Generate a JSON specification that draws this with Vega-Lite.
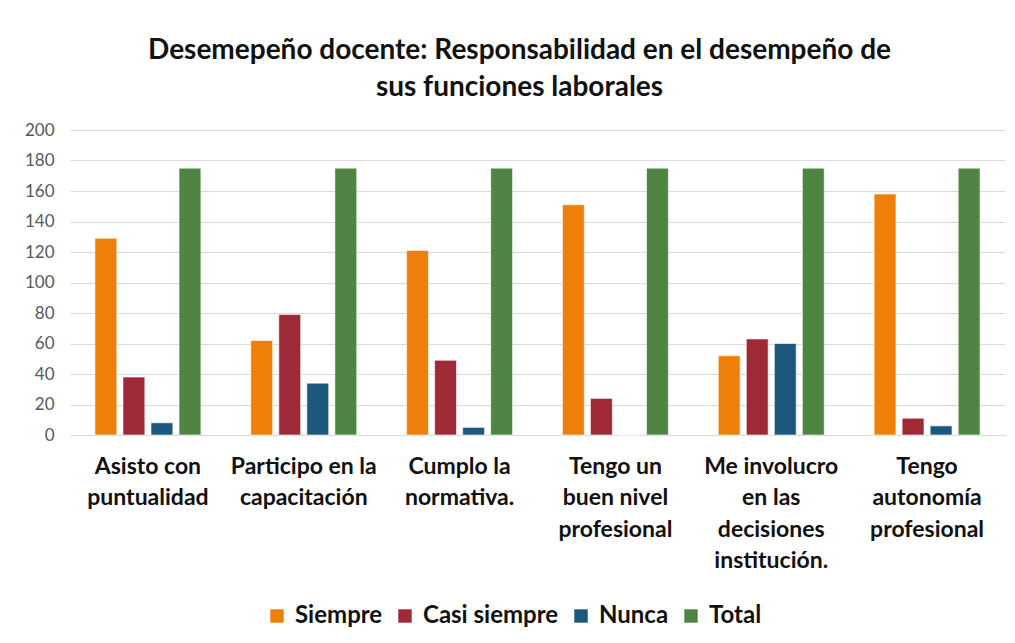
{
  "$schema": "https://vega.github.io/schema/vega-lite/v6.json",
  "width": 935,
  "height": 305,
  "autosize": {"type": "none"},
  "padding": {"left": 70, "top": 130, "right": 10, "bottom": 208},
  "background": "white",
  "config": {
    "font": "Lato",
    "view": {"stroke": null}
  },
  "title": {
    "text": ["Desemepeño docente: Responsabilidad en el desempeño de", "sus funciones laborales"],
    "fontSize": 28,
    "fontWeight": "bold",
    "font": "Lato",
    "color": "#111111",
    "lineHeight": 37,
    "anchor": "middle",
    "offset": 19,
    "dx": -18
  },
  "data": {
    "values": [
      {"pregunta": "Asisto con puntualidad", "serie": "Siempre", "valor": 129},
      {"pregunta": "Asisto con puntualidad", "serie": "Casi siempre", "valor": 38},
      {"pregunta": "Asisto con puntualidad", "serie": "Nunca", "valor": 8},
      {"pregunta": "Asisto con puntualidad", "serie": "Total", "valor": 175},
      {"pregunta": "Participo en la capacitación", "serie": "Siempre", "valor": 62},
      {"pregunta": "Participo en la capacitación", "serie": "Casi siempre", "valor": 79},
      {"pregunta": "Participo en la capacitación", "serie": "Nunca", "valor": 34},
      {"pregunta": "Participo en la capacitación", "serie": "Total", "valor": 175},
      {"pregunta": "Cumplo la normativa.", "serie": "Siempre", "valor": 121},
      {"pregunta": "Cumplo la normativa.", "serie": "Casi siempre", "valor": 49},
      {"pregunta": "Cumplo la normativa.", "serie": "Nunca", "valor": 5},
      {"pregunta": "Cumplo la normativa.", "serie": "Total", "valor": 175},
      {"pregunta": "Tengo un buen nivel profesional", "serie": "Siempre", "valor": 151},
      {"pregunta": "Tengo un buen nivel profesional", "serie": "Casi siempre", "valor": 24},
      {"pregunta": "Tengo un buen nivel profesional", "serie": "Nunca", "valor": 0},
      {"pregunta": "Tengo un buen nivel profesional", "serie": "Total", "valor": 175},
      {"pregunta": "Me involucro en las decisiones institución.", "serie": "Siempre", "valor": 52},
      {"pregunta": "Me involucro en las decisiones institución.", "serie": "Casi siempre", "valor": 63},
      {"pregunta": "Me involucro en las decisiones institución.", "serie": "Nunca", "valor": 60},
      {"pregunta": "Me involucro en las decisiones institución.", "serie": "Total", "valor": 175},
      {"pregunta": "Tengo autonomía profesional", "serie": "Siempre", "valor": 158},
      {"pregunta": "Tengo autonomía profesional", "serie": "Casi siempre", "valor": 11},
      {"pregunta": "Tengo autonomía profesional", "serie": "Nunca", "valor": 6},
      {"pregunta": "Tengo autonomía profesional", "serie": "Total", "valor": 175}
    ]
  },
  "mark": {"type": "bar", "stroke": "white", "strokeWidth": 0.6},
  "encoding": {
    "x": {
      "field": "pregunta",
      "type": "nominal",
      "sort": null,
      "title": null,
      "scale": {"paddingInner": 0.32, "paddingOuter": 0.16},
      "axis": {
        "labelAngle": 0,
        "labelFontSize": 23,
        "labelFontWeight": "bold",
        "labelColor": "#111111",
        "labelLineHeight": 31.5,
        "labelPadding": 20,
        "ticks": false,
        "domainColor": "#d9d9d9",
        "labelExpr": "datum.value == 'Asisto con puntualidad' ? ['Asisto con', 'puntualidad'] : datum.value == 'Participo en la capacitación' ? ['Participo en la', 'capacitación'] : datum.value == 'Cumplo la normativa.' ? ['Cumplo la', 'normativa.'] : datum.value == 'Tengo un buen nivel profesional' ? ['Tengo un', 'buen nivel', 'profesional'] : datum.value == 'Me involucro en las decisiones institución.' ? ['Me involucro', 'en las', 'decisiones', 'institución.'] : ['Tengo', 'autonomía', 'profesional']"
      }
    },
    "xOffset": {
      "field": "serie",
      "type": "nominal",
      "sort": ["Siempre", "Casi siempre", "Nunca", "Total"],
      "scale": {"paddingInner": 0.22, "paddingOuter": 0}
    },
    "y": {
      "field": "valor",
      "type": "quantitative",
      "title": null,
      "scale": {"domain": [0, 200]},
      "axis": {
        "values": [0, 20, 40, 60, 80, 100, 120, 140, 160, 180, 200],
        "labelFontSize": 17,
        "labelColor": "#595959",
        "labelPadding": 16,
        "labelFont": "Lato",
        "ticks": false,
        "domain": false,
        "gridColor": "#d9d9d9",
        "gridWidth": 1
      }
    },
    "color": {
      "field": "serie",
      "type": "nominal",
      "sort": ["Siempre", "Casi siempre", "Nunca", "Total"],
      "scale": {
        "domain": ["Siempre", "Casi siempre", "Nunca", "Total"],
        "range": ["#F07F09", "#9F2936", "#1B587C", "#4E8542"]
      },
      "legend": {
        "title": null,
        "orient": "none",
        "legendX": 195,
        "legendY": 474,
        "direction": "horizontal",
        "symbolType": "square",
        "symbolSize": 180,
        "symbolStrokeWidth": 0,
        "labelFontSize": 24,
        "labelFontWeight": "bold",
        "labelColor": "#111111",
        "labelOffset": 6,
        "columnSpacing": 29
      }
    }
  }
}
